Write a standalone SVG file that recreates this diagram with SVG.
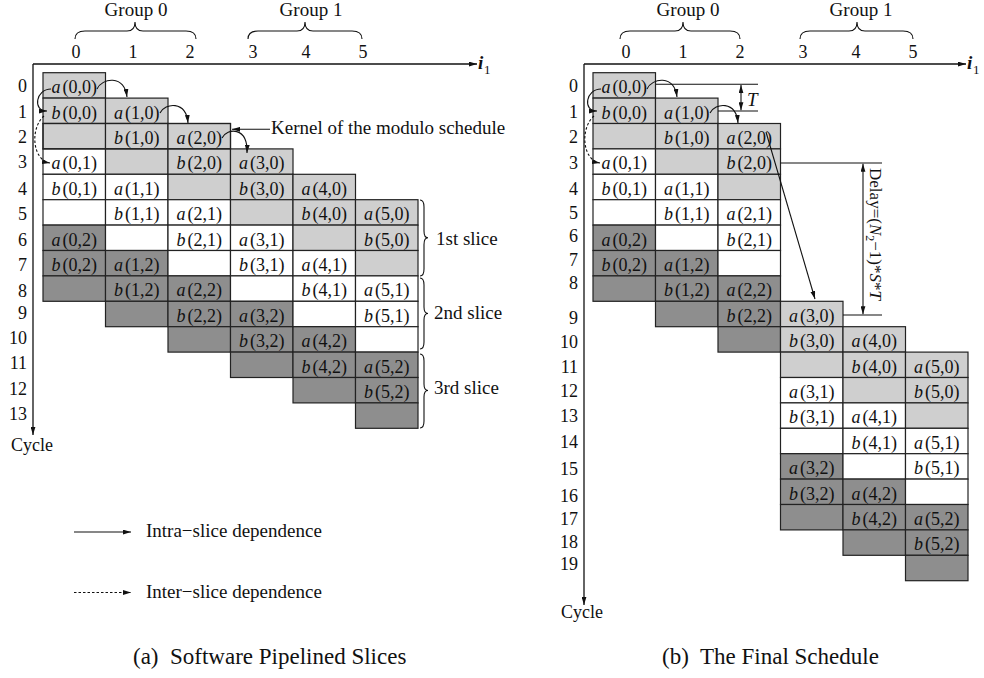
<svg xmlns="http://www.w3.org/2000/svg" width="984" height="678" viewBox="0 0 984 678">
<style>
text{font-family:"Liberation Serif","Times New Roman",serif;fill:#111}
.c{font-size:18px;text-anchor:middle}
.rl{font-size:18px;text-anchor:end}
.cl{font-size:18px;text-anchor:middle}
.an{font-size:19px}
.cap{font-size:23px}
.i{font-style:italic}
rect{stroke:#222;stroke-width:1.2}
.l{fill:#cfcfcf}
.w{fill:#fff}
.d{fill:#8e8e8e}
.ax{stroke:#111;stroke-width:1.3;fill:none}
.br{stroke:#111;stroke-width:1.1;fill:none}
.cn{stroke:#111;stroke-width:1.1;fill:none}
.ds{stroke-dasharray:2.5 2}
</style>
<defs>
<marker id="ah" viewBox="0 0 10 6" refX="10" refY="3" markerWidth="8" markerHeight="5" markerUnits="userSpaceOnUse" orient="auto-start-reverse"><path d="M0,0 L10,3 L0,6 z" fill="#111"/></marker>
</defs>

<!-- ===== Left diagram (a) ===== -->
<g id="left-axes">
<path class="ax" d="M33,64 H477" marker-end="url(#ah)"/>
<path class="ax" d="M33,64 V435" marker-end="url(#ah)"/>
<text x="478" y="69" font-size="19" font-weight="bold" font-style="italic">i</text>
<text x="484" y="74" font-size="13">1</text>
<text x="11" y="451" font-size="18">Cycle</text>
</g>
<g id="left-col-labels">
<text class="cl" x="76" y="58">0</text><text class="cl" x="133" y="58">1</text><text class="cl" x="190" y="58">2</text>
<text class="cl" x="253" y="58">3</text><text class="cl" x="306" y="58">4</text><text class="cl" x="363" y="58">5</text>
</g>
<g id="left-groups">
<path class="br" d="M75,39 Q75,31 85,31 L127,31 Q135,31 135,22 Q135,31 143,31 L186,31 Q196,31 196,39"/>
<path class="br" d="M248,39 Q248,31 258,31 L297,31 Q305,31 305,22 Q305,31 313,31 L352,31 Q362,31 362,39"/>
<text class="an" x="136" y="16" text-anchor="middle">Group 0</text>
<text class="an" x="311" y="16" text-anchor="middle">Group 1</text>
</g>
<g id="left-row-labels">
<text class="rl" x="27" y="91.7">0</text><text class="rl" x="27" y="118">1</text><text class="rl" x="27" y="143.3">2</text>
<text class="rl" x="27" y="168.3">3</text><text class="rl" x="27" y="194.5">4</text><text class="rl" x="27" y="220">5</text>
<text class="rl" x="27" y="246">6</text><text class="rl" x="27" y="271">7</text><text class="rl" x="27" y="297">8</text>
<text class="rl" x="27" y="318.5">9</text><text class="rl" x="27" y="343.5">10</text><text class="rl" x="27" y="368.5">11</text>
<text class="rl" x="27" y="395">12</text><text class="rl" x="27" y="420">13</text>
</g>

<!-- left col 0 -->
<g id="L-a00"><rect class="l" x="43" y="72.7" width="62.5" height="25.4"/><text class="c" x="74.25" y="93.2"><tspan class="i">a</tspan><tspan dx="2">(0,0)</tspan></text></g>
<g id="L-b00"><rect class="l" x="43" y="98.1" width="62.5" height="25.4"/><text class="c" x="74.25" y="118.6"><tspan class="i">b</tspan><tspan dx="2">(0,0)</tspan></text></g>
<g id="L-e0-2"><rect class="l" x="43" y="123.5" width="62.5" height="25.4"/></g>
<g id="L-a01"><rect class="w" x="43" y="148.9" width="62.5" height="25.4"/><text class="c" x="74.25" y="169.4"><tspan class="i">a</tspan><tspan dx="2">(0,1)</tspan></text></g>
<g id="L-b01"><rect class="w" x="43" y="174.3" width="62.5" height="25.4"/><text class="c" x="74.25" y="194.8"><tspan class="i">b</tspan><tspan dx="2">(0,1)</tspan></text></g>
<g id="L-e0-5"><rect class="w" x="43" y="199.7" width="62.5" height="25.4"/></g>
<g id="L-a02"><rect class="d" x="43" y="225.1" width="62.5" height="25.4"/><text class="c" x="74.25" y="245.6"><tspan class="i">a</tspan><tspan dx="2">(0,2)</tspan></text></g>
<g id="L-b02"><rect class="d" x="43" y="250.5" width="62.5" height="25.4"/><text class="c" x="74.25" y="271"><tspan class="i">b</tspan><tspan dx="2">(0,2)</tspan></text></g>
<g id="L-e0-8"><rect class="d" x="43" y="275.9" width="62.5" height="25.4"/></g>
<!-- left col 1 -->
<g id="L-a10"><rect class="l" x="105.5" y="98.1" width="62.5" height="25.4"/><text class="c" x="136.75" y="118.6"><tspan class="i">a</tspan><tspan dx="2">(1,0)</tspan></text></g>
<g id="L-b10"><rect class="l" x="105.5" y="123.5" width="62.5" height="25.4"/><text class="c" x="136.75" y="144"><tspan class="i">b</tspan><tspan dx="2">(1,0)</tspan></text></g>
<g id="L-e1-3"><rect class="l" x="105.5" y="148.9" width="62.5" height="25.4"/></g>
<g id="L-a11"><rect class="w" x="105.5" y="174.3" width="62.5" height="25.4"/><text class="c" x="136.75" y="194.8"><tspan class="i">a</tspan><tspan dx="2">(1,1)</tspan></text></g>
<g id="L-b11"><rect class="w" x="105.5" y="199.7" width="62.5" height="25.4"/><text class="c" x="136.75" y="220.2"><tspan class="i">b</tspan><tspan dx="2">(1,1)</tspan></text></g>
<g id="L-e1-6"><rect class="w" x="105.5" y="225.1" width="62.5" height="25.4"/></g>
<g id="L-a12"><rect class="d" x="105.5" y="250.5" width="62.5" height="25.4"/><text class="c" x="136.75" y="271"><tspan class="i">a</tspan><tspan dx="2">(1,2)</tspan></text></g>
<g id="L-b12"><rect class="d" x="105.5" y="275.9" width="62.5" height="25.4"/><text class="c" x="136.75" y="296.4"><tspan class="i">b</tspan><tspan dx="2">(1,2)</tspan></text></g>
<g id="L-e1-9"><rect class="d" x="105.5" y="301.3" width="62.5" height="25.4"/></g>
<!-- left col 2 -->
<g id="L-a20"><rect class="l" x="168" y="123.5" width="62.5" height="25.4"/><text class="c" x="199.25" y="144"><tspan class="i">a</tspan><tspan dx="2">(2,0)</tspan></text></g>
<g id="L-b20"><rect class="l" x="168" y="148.9" width="62.5" height="25.4"/><text class="c" x="199.25" y="169.4"><tspan class="i">b</tspan><tspan dx="2">(2,0)</tspan></text></g>
<g id="L-e2-4"><rect class="l" x="168" y="174.3" width="62.5" height="25.4"/></g>
<g id="L-a21"><rect class="w" x="168" y="199.7" width="62.5" height="25.4"/><text class="c" x="199.25" y="220.2"><tspan class="i">a</tspan><tspan dx="2">(2,1)</tspan></text></g>
<g id="L-b21"><rect class="w" x="168" y="225.1" width="62.5" height="25.4"/><text class="c" x="199.25" y="245.6"><tspan class="i">b</tspan><tspan dx="2">(2,1)</tspan></text></g>
<g id="L-e2-7"><rect class="w" x="168" y="250.5" width="62.5" height="25.4"/></g>
<g id="L-a22"><rect class="d" x="168" y="275.9" width="62.5" height="25.4"/><text class="c" x="199.25" y="296.4"><tspan class="i">a</tspan><tspan dx="2">(2,2)</tspan></text></g>
<g id="L-b22"><rect class="d" x="168" y="301.3" width="62.5" height="25.4"/><text class="c" x="199.25" y="321.8"><tspan class="i">b</tspan><tspan dx="2">(2,2)</tspan></text></g>
<g id="L-e2-10"><rect class="d" x="168" y="326.7" width="62.5" height="25.4"/></g>
<!-- left col 3 -->
<g id="L-a30"><rect class="l" x="230.5" y="148.9" width="62.5" height="25.4"/><text class="c" x="261.75" y="169.4"><tspan class="i">a</tspan><tspan dx="2">(3,0)</tspan></text></g>
<g id="L-b30"><rect class="l" x="230.5" y="174.3" width="62.5" height="25.4"/><text class="c" x="261.75" y="194.8"><tspan class="i">b</tspan><tspan dx="2">(3,0)</tspan></text></g>
<g id="L-e3-5"><rect class="l" x="230.5" y="199.7" width="62.5" height="25.4"/></g>
<g id="L-a31"><rect class="w" x="230.5" y="225.1" width="62.5" height="25.4"/><text class="c" x="261.75" y="245.6"><tspan class="i">a</tspan><tspan dx="2">(3,1)</tspan></text></g>
<g id="L-b31"><rect class="w" x="230.5" y="250.5" width="62.5" height="25.4"/><text class="c" x="261.75" y="271"><tspan class="i">b</tspan><tspan dx="2">(3,1)</tspan></text></g>
<g id="L-e3-8"><rect class="w" x="230.5" y="275.9" width="62.5" height="25.4"/></g>
<g id="L-a32"><rect class="d" x="230.5" y="301.3" width="62.5" height="25.4"/><text class="c" x="261.75" y="321.8"><tspan class="i">a</tspan><tspan dx="2">(3,2)</tspan></text></g>
<g id="L-b32"><rect class="d" x="230.5" y="326.7" width="62.5" height="25.4"/><text class="c" x="261.75" y="347.2"><tspan class="i">b</tspan><tspan dx="2">(3,2)</tspan></text></g>
<g id="L-e3-11"><rect class="d" x="230.5" y="352.1" width="62.5" height="25.4"/></g>
<!-- left col 4 -->
<g id="L-a40"><rect class="l" x="293" y="174.3" width="62.5" height="25.4"/><text class="c" x="324.25" y="194.8"><tspan class="i">a</tspan><tspan dx="2">(4,0)</tspan></text></g>
<g id="L-b40"><rect class="l" x="293" y="199.7" width="62.5" height="25.4"/><text class="c" x="324.25" y="220.2"><tspan class="i">b</tspan><tspan dx="2">(4,0)</tspan></text></g>
<g id="L-e4-6"><rect class="l" x="293" y="225.1" width="62.5" height="25.4"/></g>
<g id="L-a41"><rect class="w" x="293" y="250.5" width="62.5" height="25.4"/><text class="c" x="324.25" y="271"><tspan class="i">a</tspan><tspan dx="2">(4,1)</tspan></text></g>
<g id="L-b41"><rect class="w" x="293" y="275.9" width="62.5" height="25.4"/><text class="c" x="324.25" y="296.4"><tspan class="i">b</tspan><tspan dx="2">(4,1)</tspan></text></g>
<g id="L-e4-9"><rect class="w" x="293" y="301.3" width="62.5" height="25.4"/></g>
<g id="L-a42"><rect class="d" x="293" y="326.7" width="62.5" height="25.4"/><text class="c" x="324.25" y="347.2"><tspan class="i">a</tspan><tspan dx="2">(4,2)</tspan></text></g>
<g id="L-b42"><rect class="d" x="293" y="352.1" width="62.5" height="25.4"/><text class="c" x="324.25" y="372.6"><tspan class="i">b</tspan><tspan dx="2">(4,2)</tspan></text></g>
<g id="L-e4-12"><rect class="d" x="293" y="377.5" width="62.5" height="25.4"/></g>
<!-- left col 5 -->
<g id="L-a50"><rect class="l" x="355.5" y="199.7" width="62.5" height="25.4"/><text class="c" x="386.75" y="220.2"><tspan class="i">a</tspan><tspan dx="2">(5,0)</tspan></text></g>
<g id="L-b50"><rect class="l" x="355.5" y="225.1" width="62.5" height="25.4"/><text class="c" x="386.75" y="245.6"><tspan class="i">b</tspan><tspan dx="2">(5,0)</tspan></text></g>
<g id="L-e5-7"><rect class="l" x="355.5" y="250.5" width="62.5" height="25.4"/></g>
<g id="L-a51"><rect class="w" x="355.5" y="275.9" width="62.5" height="25.4"/><text class="c" x="386.75" y="296.4"><tspan class="i">a</tspan><tspan dx="2">(5,1)</tspan></text></g>
<g id="L-b51"><rect class="w" x="355.5" y="301.3" width="62.5" height="25.4"/><text class="c" x="386.75" y="321.8"><tspan class="i">b</tspan><tspan dx="2">(5,1)</tspan></text></g>
<g id="L-e5-10"><rect class="w" x="355.5" y="326.7" width="62.5" height="25.4"/></g>
<g id="L-a52"><rect class="d" x="355.5" y="352.1" width="62.5" height="25.4"/><text class="c" x="386.75" y="372.6"><tspan class="i">a</tspan><tspan dx="2">(5,2)</tspan></text></g>
<g id="L-b52"><rect class="d" x="355.5" y="377.5" width="62.5" height="25.4"/><text class="c" x="386.75" y="398"><tspan class="i">b</tspan><tspan dx="2">(5,2)</tspan></text></g>
<g id="L-e5-13"><rect class="d" x="355.5" y="402.9" width="62.5" height="25.4"/></g>

<g id="kernel">
<rect x="43" y="123.5" width="187.5" height="25.4" fill="none" stroke="#000" stroke-width="3"/>
<text class="an" x="271" y="134">Kernel of the modulo schedule</text>
</g>
<g id="slices">
<path class="br" d="M420,200 Q424,200 424,207 L424,231 Q424,237.8 428,237.8 Q424,237.8 424,244.6 L424,269 Q424,276 420,276"/>
<path class="br" d="M420,278 Q424,278 424,285 L424,307 Q424,313.5 428,313.5 Q424,313.5 424,320 L424,342 Q424,349 420,349"/>
<path class="br" d="M420,354 Q424,354 424,361 L424,384 Q424,390.5 428,390.5 Q424,390.5 424,397 L424,421 Q424,428 420,428"/>
<text class="an" x="436" y="245">1st slice</text>
<text class="an" x="434" y="319">2nd slice</text>
<text class="an" x="434" y="394">3rd slice</text>
</g>
<g id="legend">
<path class="cn" d="M74,532 H131" marker-end="url(#ah)"/>
<text class="an" x="146" y="537">Intra−slice dependence</text>
<path class="cn ds" d="M74,592.5 H131" marker-end="url(#ah)"/>
<text class="an" x="146" y="598">Inter−slice dependence</text>
</g>
<g id="caption-a">
<text class="cap" x="133" y="664">(a)</text>
<text class="cap" x="170" y="664">Software Pipelined Slices</text>
</g>

<!-- ===== Right diagram (b) ===== -->
<g id="right-axes">
<path class="ax" d="M584,64 H966" marker-end="url(#ah)"/>
<path class="ax" d="M584,64 V605" marker-end="url(#ah)"/>
<text x="967" y="69" font-size="19" font-weight="bold" font-style="italic">i</text>
<text x="973" y="74" font-size="13">1</text>
<text x="561" y="618" font-size="18">Cycle</text>
</g>
<g id="right-col-labels">
<text class="cl" x="626" y="58">0</text><text class="cl" x="683" y="58">1</text><text class="cl" x="740" y="58">2</text>
<text class="cl" x="803" y="58">3</text><text class="cl" x="856" y="58">4</text><text class="cl" x="913" y="58">5</text>
</g>
<g id="right-groups">
<path class="br" d="M620,39 Q620,31 630,31 L675,31 Q683,31 683,22 Q683,31 691,31 L730,31 Q740,31 740,39"/>
<path class="br" d="M800,39 Q800,31 810,31 L849,31 Q857,31 857,22 Q857,31 865,31 L903,31 Q913,31 913,39"/>
<text class="an" x="688" y="16" text-anchor="middle">Group 0</text>
<text class="an" x="861" y="16" text-anchor="middle">Group 1</text>
</g>
<g id="right-row-labels">
<text class="rl" x="578" y="91.7">0</text><text class="rl" x="578" y="118">1</text><text class="rl" x="578" y="143">2</text>
<text class="rl" x="578" y="168.5">3</text><text class="rl" x="578" y="195">4</text><text class="rl" x="578" y="218.5">5</text>
<text class="rl" x="578" y="242">6</text><text class="rl" x="578" y="265.5">7</text><text class="rl" x="578" y="289">8</text>
<text class="rl" x="578" y="324">9</text><text class="rl" x="578" y="348.3">10</text><text class="rl" x="578" y="373">11</text>
<text class="rl" x="578" y="396.7">12</text><text class="rl" x="578" y="421.7">13</text><text class="rl" x="578" y="448.3">14</text>
<text class="rl" x="578" y="475">15</text><text class="rl" x="578" y="501.5">16</text><text class="rl" x="578" y="525">17</text>
<text class="rl" x="578" y="548">18</text><text class="rl" x="578" y="570">19</text>
</g>

<!-- right col 0 -->
<g id="R-a00"><rect class="l" x="593" y="72.7" width="62.5" height="25.4"/><text class="c" x="624.25" y="93.2"><tspan class="i">a</tspan><tspan dx="2">(0,0)</tspan></text></g>
<g id="R-b00"><rect class="l" x="593" y="98.1" width="62.5" height="25.4"/><text class="c" x="624.25" y="118.6"><tspan class="i">b</tspan><tspan dx="2">(0,0)</tspan></text></g>
<g id="R-e0-2"><rect class="l" x="593" y="123.5" width="62.5" height="25.4"/></g>
<g id="R-a01"><rect class="w" x="593" y="148.9" width="62.5" height="25.4"/><text class="c" x="624.25" y="169.4"><tspan class="i">a</tspan><tspan dx="2">(0,1)</tspan></text></g>
<g id="R-b01"><rect class="w" x="593" y="174.3" width="62.5" height="25.4"/><text class="c" x="624.25" y="194.8"><tspan class="i">b</tspan><tspan dx="2">(0,1)</tspan></text></g>
<g id="R-e0-5"><rect class="w" x="593" y="199.7" width="62.5" height="25.4"/></g>
<g id="R-a02"><rect class="d" x="593" y="225.1" width="62.5" height="25.4"/><text class="c" x="624.25" y="245.6"><tspan class="i">a</tspan><tspan dx="2">(0,2)</tspan></text></g>
<g id="R-b02"><rect class="d" x="593" y="250.5" width="62.5" height="25.4"/><text class="c" x="624.25" y="271"><tspan class="i">b</tspan><tspan dx="2">(0,2)</tspan></text></g>
<g id="R-e0-8"><rect class="d" x="593" y="275.9" width="62.5" height="25.4"/></g>
<!-- right col 1 -->
<g id="R-a10"><rect class="l" x="655.5" y="98.1" width="62.5" height="25.4"/><text class="c" x="686.75" y="118.6"><tspan class="i">a</tspan><tspan dx="2">(1,0)</tspan></text></g>
<g id="R-b10"><rect class="l" x="655.5" y="123.5" width="62.5" height="25.4"/><text class="c" x="686.75" y="144"><tspan class="i">b</tspan><tspan dx="2">(1,0)</tspan></text></g>
<g id="R-e1-3"><rect class="l" x="655.5" y="148.9" width="62.5" height="25.4"/></g>
<g id="R-a11"><rect class="w" x="655.5" y="174.3" width="62.5" height="25.4"/><text class="c" x="686.75" y="194.8"><tspan class="i">a</tspan><tspan dx="2">(1,1)</tspan></text></g>
<g id="R-b11"><rect class="w" x="655.5" y="199.7" width="62.5" height="25.4"/><text class="c" x="686.75" y="220.2"><tspan class="i">b</tspan><tspan dx="2">(1,1)</tspan></text></g>
<g id="R-e1-6"><rect class="w" x="655.5" y="225.1" width="62.5" height="25.4"/></g>
<g id="R-a12"><rect class="d" x="655.5" y="250.5" width="62.5" height="25.4"/><text class="c" x="686.75" y="271"><tspan class="i">a</tspan><tspan dx="2">(1,2)</tspan></text></g>
<g id="R-b12"><rect class="d" x="655.5" y="275.9" width="62.5" height="25.4"/><text class="c" x="686.75" y="296.4"><tspan class="i">b</tspan><tspan dx="2">(1,2)</tspan></text></g>
<g id="R-e1-9"><rect class="d" x="655.5" y="301.3" width="62.5" height="25.4"/></g>
<!-- right col 2 -->
<g id="R-a20"><rect class="l" x="718" y="123.5" width="62.5" height="25.4"/><text class="c" x="749.25" y="144"><tspan class="i">a</tspan><tspan dx="2">(2,0)</tspan></text></g>
<g id="R-b20"><rect class="l" x="718" y="148.9" width="62.5" height="25.4"/><text class="c" x="749.25" y="169.4"><tspan class="i">b</tspan><tspan dx="2">(2,0)</tspan></text></g>
<g id="R-e2-4"><rect class="l" x="718" y="174.3" width="62.5" height="25.4"/></g>
<g id="R-a21"><rect class="w" x="718" y="199.7" width="62.5" height="25.4"/><text class="c" x="749.25" y="220.2"><tspan class="i">a</tspan><tspan dx="2">(2,1)</tspan></text></g>
<g id="R-b21"><rect class="w" x="718" y="225.1" width="62.5" height="25.4"/><text class="c" x="749.25" y="245.6"><tspan class="i">b</tspan><tspan dx="2">(2,1)</tspan></text></g>
<g id="R-e2-7"><rect class="w" x="718" y="250.5" width="62.5" height="25.4"/></g>
<g id="R-a22"><rect class="d" x="718" y="275.9" width="62.5" height="25.4"/><text class="c" x="749.25" y="296.4"><tspan class="i">a</tspan><tspan dx="2">(2,2)</tspan></text></g>
<g id="R-b22"><rect class="d" x="718" y="301.3" width="62.5" height="25.4"/><text class="c" x="749.25" y="321.8"><tspan class="i">b</tspan><tspan dx="2">(2,2)</tspan></text></g>
<g id="R-e2-10"><rect class="d" x="718" y="326.7" width="62.5" height="25.4"/></g>
<!-- right col 3 -->
<g id="R-a30"><rect class="l" x="780.5" y="301.3" width="62.5" height="25.4"/><text class="c" x="811.75" y="321.8"><tspan class="i">a</tspan><tspan dx="2">(3,0)</tspan></text></g>
<g id="R-b30"><rect class="l" x="780.5" y="326.7" width="62.5" height="25.4"/><text class="c" x="811.75" y="347.2"><tspan class="i">b</tspan><tspan dx="2">(3,0)</tspan></text></g>
<g id="R-e3-11"><rect class="l" x="780.5" y="352.1" width="62.5" height="25.4"/></g>
<g id="R-a31"><rect class="w" x="780.5" y="377.5" width="62.5" height="25.4"/><text class="c" x="811.75" y="398"><tspan class="i">a</tspan><tspan dx="2">(3,1)</tspan></text></g>
<g id="R-b31"><rect class="w" x="780.5" y="402.9" width="62.5" height="25.4"/><text class="c" x="811.75" y="423.4"><tspan class="i">b</tspan><tspan dx="2">(3,1)</tspan></text></g>
<g id="R-e3-14"><rect class="w" x="780.5" y="428.3" width="62.5" height="25.4"/></g>
<g id="R-a32"><rect class="d" x="780.5" y="453.7" width="62.5" height="25.4"/><text class="c" x="811.75" y="474.2"><tspan class="i">a</tspan><tspan dx="2">(3,2)</tspan></text></g>
<g id="R-b32"><rect class="d" x="780.5" y="479.1" width="62.5" height="25.4"/><text class="c" x="811.75" y="499.6"><tspan class="i">b</tspan><tspan dx="2">(3,2)</tspan></text></g>
<g id="R-e3-17"><rect class="d" x="780.5" y="504.5" width="62.5" height="25.4"/></g>
<!-- right col 4 -->
<g id="R-a40"><rect class="l" x="843" y="326.7" width="62.5" height="25.4"/><text class="c" x="874.25" y="347.2"><tspan class="i">a</tspan><tspan dx="2">(4,0)</tspan></text></g>
<g id="R-b40"><rect class="l" x="843" y="352.1" width="62.5" height="25.4"/><text class="c" x="874.25" y="372.6"><tspan class="i">b</tspan><tspan dx="2">(4,0)</tspan></text></g>
<g id="R-e4-12"><rect class="l" x="843" y="377.5" width="62.5" height="25.4"/></g>
<g id="R-a41"><rect class="w" x="843" y="402.9" width="62.5" height="25.4"/><text class="c" x="874.25" y="423.4"><tspan class="i">a</tspan><tspan dx="2">(4,1)</tspan></text></g>
<g id="R-b41"><rect class="w" x="843" y="428.3" width="62.5" height="25.4"/><text class="c" x="874.25" y="448.8"><tspan class="i">b</tspan><tspan dx="2">(4,1)</tspan></text></g>
<g id="R-e4-15"><rect class="w" x="843" y="453.7" width="62.5" height="25.4"/></g>
<g id="R-a42"><rect class="d" x="843" y="479.1" width="62.5" height="25.4"/><text class="c" x="874.25" y="499.6"><tspan class="i">a</tspan><tspan dx="2">(4,2)</tspan></text></g>
<g id="R-b42"><rect class="d" x="843" y="504.5" width="62.5" height="25.4"/><text class="c" x="874.25" y="525"><tspan class="i">b</tspan><tspan dx="2">(4,2)</tspan></text></g>
<g id="R-e4-18"><rect class="d" x="843" y="529.9" width="62.5" height="25.4"/></g>
<!-- right col 5 -->
<g id="R-a50"><rect class="l" x="905.5" y="352.1" width="62.5" height="25.4"/><text class="c" x="936.75" y="372.6"><tspan class="i">a</tspan><tspan dx="2">(5,0)</tspan></text></g>
<g id="R-b50"><rect class="l" x="905.5" y="377.5" width="62.5" height="25.4"/><text class="c" x="936.75" y="398"><tspan class="i">b</tspan><tspan dx="2">(5,0)</tspan></text></g>
<g id="R-e5-13"><rect class="l" x="905.5" y="402.9" width="62.5" height="25.4"/></g>
<g id="R-a51"><rect class="w" x="905.5" y="428.3" width="62.5" height="25.4"/><text class="c" x="936.75" y="448.8"><tspan class="i">a</tspan><tspan dx="2">(5,1)</tspan></text></g>
<g id="R-b51"><rect class="w" x="905.5" y="453.7" width="62.5" height="25.4"/><text class="c" x="936.75" y="474.2"><tspan class="i">b</tspan><tspan dx="2">(5,1)</tspan></text></g>
<g id="R-e5-16"><rect class="w" x="905.5" y="479.1" width="62.5" height="25.4"/></g>
<g id="R-a52"><rect class="d" x="905.5" y="504.5" width="62.5" height="25.4"/><text class="c" x="936.75" y="525"><tspan class="i">a</tspan><tspan dx="2">(5,2)</tspan></text></g>
<g id="R-b52"><rect class="d" x="905.5" y="529.9" width="62.5" height="25.4"/><text class="c" x="936.75" y="550.4"><tspan class="i">b</tspan><tspan dx="2">(5,2)</tspan></text></g>
<g id="R-e5-19"><rect class="d" x="905.5" y="555.3" width="62.5" height="25.4"/></g>

<g id="dim-T">
<path class="cn" d="M656,84.3 H758 M718,111 H758"/>
<path class="cn" d="M741,85 V110.3" marker-start="url(#ah)" marker-end="url(#ah)"/>
<text class="an i" x="747" y="106">T</text>
</g>
<g id="dim-delay">
<path class="cn" d="M780.5,163 H882 M843,315 H882"/>
<path class="cn" d="M863,163.7 V314.3" marker-start="url(#ah)" marker-end="url(#ah)"/>
<text font-size="17" transform="translate(870,234) rotate(90)" text-anchor="middle">Delay=(<tspan class="i">N</tspan><tspan font-size="12" dy="4">2</tspan><tspan dy="-4">−1)*</tspan><tspan class="i">S</tspan>*<tspan class="i">T</tspan></text>
</g>
<g id="caption-b">
<text class="cap" x="662" y="664">(b)</text>
<text class="cap" x="700" y="664">The Final Schedule</text>
</g>

<!-- ===== Connectors ===== -->
<g id="connectors">
<path class="cn" d="M97,89 C102,78 124,74 127,97" marker-end="url(#ah)"/>
<path class="cn" d="M160,113 C165,103 186,100 188,123" marker-end="url(#ah)"/>
<path class="cn" d="M222,138 C227,128 248,126 247,153" marker-end="url(#ah)"/>
<path class="cn" d="M51,89 C36,89 32,111 47,111" marker-end="url(#ah)"/>
<path class="cn ds" d="M44,116 C30,128 32,160 50,163" marker-end="url(#ah)"/>
<path class="cn" d="M270,129.3 H232" marker-end="url(#ah)"/>
<path class="cn" d="M647,89 C652,78 674,74 677,97" marker-end="url(#ah)"/>
<path class="cn" d="M710,113 C715,103 736,100 738,123" marker-end="url(#ah)"/>
<path class="cn" d="M601,89 C586,89 582,111 597,111" marker-end="url(#ah)"/>
<path class="cn ds" d="M594,116 C580,128 582,160 600,163" marker-end="url(#ah)"/>
<path class="cn" d="M766,132 L815,299" marker-end="url(#ah)"/>
</g>
</svg>
